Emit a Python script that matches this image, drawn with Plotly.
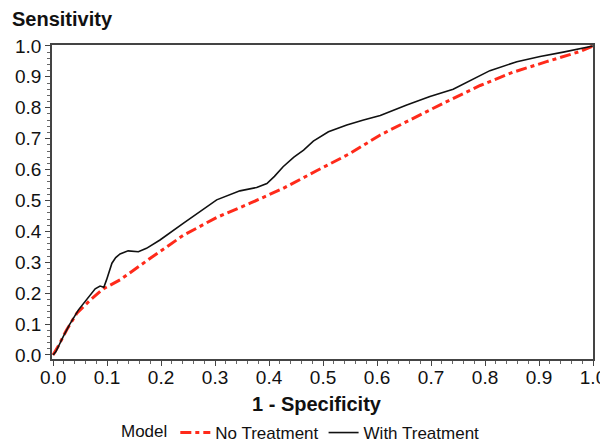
import plotly.graph_objects as go

# With Treatment (black solid)
with_x = [0.0, 0.005, 0.019, 0.031, 0.047, 0.062, 0.078, 0.087, 0.094, 0.099, 0.104, 0.109,
          0.116, 0.124, 0.139, 0.158, 0.173, 0.198, 0.241, 0.272, 0.303, 0.346, 0.377,
          0.396, 0.41, 0.426, 0.446, 0.464, 0.482, 0.51, 0.544, 0.575, 0.606, 0.655, 0.698, 0.741,
          0.766, 0.809, 0.859, 0.902, 0.945, 1.0]
with_y = [0.0, 0.01, 0.06, 0.10, 0.146, 0.178, 0.214, 0.223, 0.219, 0.243, 0.272, 0.297,
          0.315, 0.327, 0.337, 0.334, 0.345, 0.372, 0.426, 0.464, 0.502, 0.531, 0.542,
          0.555, 0.578, 0.609, 0.640, 0.663, 0.692, 0.722, 0.744, 0.760, 0.775, 0.809, 0.836, 0.860,
          0.882, 0.920, 0.949, 0.966, 0.980, 1.0]

# No Treatment (red dash-dot)
no_x = [0.0, 0.01, 0.025, 0.044, 0.069, 0.093, 0.124, 0.161, 0.18, 0.241, 0.303, 0.365,
        0.426, 0.488, 0.55, 0.606, 0.667, 0.729, 0.791, 0.852, 0.914, 0.976, 1.0]
no_y = [0.0, 0.03, 0.081, 0.135, 0.178, 0.214, 0.243, 0.29, 0.313, 0.387, 0.445, 0.491,
        0.539, 0.596, 0.652, 0.712, 0.766, 0.82, 0.872, 0.915, 0.949, 0.982, 1.0]

tick_vals = [0.0, 0.1, 0.2, 0.3, 0.4, 0.5, 0.6, 0.7, 0.8, 0.9, 1.0]
tick_text = ["0.0", "0.1", "0.2", "0.3", "0.4", "0.5", "0.6", "0.7", "0.8", "0.9", "1.0"]

FONT = "Liberation Sans, Arial, sans-serif"

# The page body has an 8px margin, so the figure is sized/positioned to fit the window.
W, H = 600, 435
M_T, M_B = 37, 84
PLOT_H = H - M_T - M_B

fig = go.Figure()
fig.add_trace(go.Scatter(x=no_x, y=no_y, mode="lines", name="No Treatment",
                         line=dict(color="#ff2a1a", width=3, dash="11px,4px,4px,4px")))
fig.add_trace(go.Scatter(x=with_x, y=with_y, mode="lines", name="With Treatment",
                         line=dict(color="#111111", width=1.6)))

axis_common = dict(
    showline=True, linecolor="#444444", linewidth=1.5, mirror=True,
    showgrid=False, zeroline=False,
    ticks="outside", ticklen=5, tickwidth=1.2, tickcolor="#444444",
    tickvals=tick_vals, ticktext=tick_text,
    tickfont=dict(family=FONT, size=19, color="#111111"),
    minor=dict(ticks="outside", ticklen=3, tickwidth=1, tickcolor="#666666", dtick=0.02, tick0=0),
)

fig.update_layout(
    width=W, height=H,
    margin=dict(l=44, r=15, t=M_T, b=M_B, autoexpand=False),
    paper_bgcolor="white", plot_bgcolor="white",
    font=dict(family=FONT, color="#111111"),
    title=dict(text="<b>Sensitivity</b>", xref="container", yref="container",
               x=4 / W, xanchor="left", y=1 - 11 / H, yanchor="middle",
               font=dict(family=FONT, size=20, color="#111111")),
    xaxis=dict(range=[-0.002, 1.0], ticklabelstandoff=-5, **axis_common),
    yaxis=dict(range=[-0.013, 1.003], **axis_common),
    legend=dict(orientation="h", xref="container", yref="paper",
                x=0.49, xanchor="center", y=-74 / PLOT_H, yanchor="middle",
                title=dict(text="Model", font=dict(family=FONT, size=17)),
                font=dict(family=FONT, size=17, color="#111111"),
                itemwidth=30, tracegroupgap=0),
    showlegend=True,
    annotations=[dict(text="<b>1 - Specificity</b>", xref="paper", yref="paper",
                      x=0.49, y=-45 / PLOT_H, xanchor="center", yanchor="middle",
                      showarrow=False, font=dict(family=FONT, size=20, color="#111111"))],
)

fig.write_html("out.html")
